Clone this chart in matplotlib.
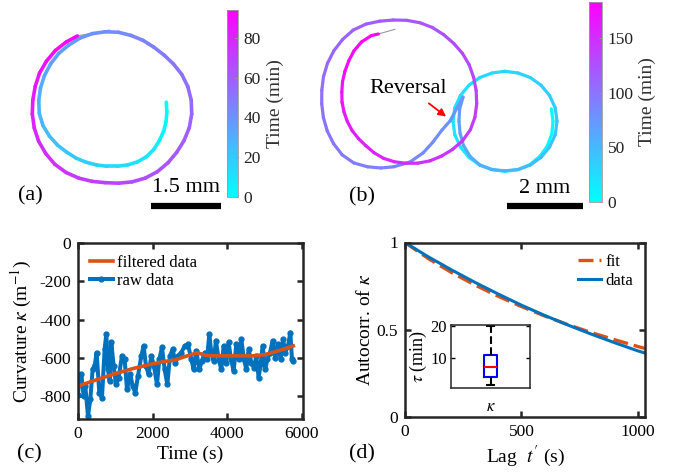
"""Trajectory, curvature and autocorrelation figure (four panels)."""

import matplotlib

matplotlib.use("Agg")
import matplotlib.pyplot as plt
import numpy as np
from matplotlib.collections import LineCollection

plt.rcParams["font.family"] = ["Liberation Serif", "DejaVu Serif"]
plt.rcParams["mathtext.fontset"] = "stix"
plt.rcParams["axes.unicode_minus"] = False

W, H = 678, 474
INK = "#262626"
ORANGE = "#D95319"
BLUE = "#0072BD"

# (a) track read as polar samples about the loop centre: angle (deg), radius (mm), time (min)
A_ANG = [5, -5, -15, -25, -35, -45, -55, -65, -75, -85, -95, -105, -115, -125, -135, -145,
         -155, -165, -175, -185, -195, -205, -215, -225, -235, -245, -255, -265, -275, -285,
         -295, -305, -315, -325, -335, -345, -355, -365, -375, -385, -395, -405, -415, -425,
         -435, -445, -455, -465, -475, -485, -495, -505, -515, -525, -535, -545, -555, -565,
         -575, -585, -595, -604]
A_RAD = [1.167, 1.178, 1.199, 1.221, 1.242, 1.274, 1.296, 1.296, 1.285, 1.274, 1.274, 1.285,
         1.306, 1.338, 1.370, 1.424, 1.478, 1.531, 1.563, 1.574, 1.585, 1.595, 1.606, 1.617,
         1.617, 1.627, 1.627, 1.617, 1.606, 1.585, 1.574, 1.563, 1.574, 1.606, 1.649, 1.681,
         1.702, 1.713, 1.713, 1.702, 1.692, 1.692, 1.692, 1.681, 1.660, 1.638, 1.627, 1.649,
         1.681, 1.713, 1.734, 1.734, 1.734, 1.724, 1.713, 1.702, 1.702, 1.713, 1.713, 1.713,
         1.702, 1.692]
A_T = [0, 2, 3, 5, 6, 8, 9, 11, 12, 14, 15, 17, 18, 20, 21, 23, 24, 26, 27, 29, 30, 32, 33,
       35, 36, 38, 40, 41, 43, 44, 46, 47, 49, 50, 52, 53, 55, 56, 58, 59, 61, 62, 64, 65, 67,
       68, 70, 71, 73, 74, 76, 78, 79, 81, 82, 84, 85, 87, 88, 90, 91, 93]
A_TAIL_X = [-0.742, -0.058]
A_TAIL_Y = [1.521, 1.648]
A_TMAX = 94
A_TICKS = [0, 20, 40, 60, 80]

# (b) track, mm.  Small loop (polar about its centre), reversal hook (x, y), big loops (polar)
B_SMALL_C = (5.658, 2.466)
B_SMALL_ANG = [15, 0, -15, -30, -45, -60, -75, -90, -105, -120, -135, -150, -165, -180, -195,
               -210, -225, -240, -255, -270, -285, -300, -315, -330, -345, -360, -375, -390,
               -405, -420, -435, -450, -465, -480, -495, -510, -525, -540, -555, -570]
B_SMALL_RAD = [1.263, 1.263, 1.276, 1.289, 1.303, 1.316, 1.316, 1.316, 1.316, 1.329, 1.342,
               1.355, 1.368, 1.368, 1.368, 1.355, 1.342, 1.329, 1.316, 1.316, 1.316, 1.329,
               1.342, 1.355, 1.368, 1.368, 1.368, 1.355, 1.342, 1.329, 1.316, 1.303, 1.316,
               1.329, 1.303, 1.263, 1.224, 1.211, 1.237, 1.276]
B_SMALL_T = [0, 2, 3, 5, 6, 8, 9, 11, 12, 13, 15, 16, 18, 19, 21, 22, 24, 26, 27, 29, 31, 33,
             34, 36, 38, 40, 42, 44, 47, 49, 52, 54, 56, 58, 60, 62, 65, 68, 70, 73]
B_HOOK_X = [4.395, 4.211, 4.000, 3.763, 3.500, 3.158]
B_HOOK_Y = [2.816, 2.474, 2.237, 1.921, 1.632, 1.395]
B_HOOK_T = [75, 77, 79, 81, 84, 86]
B_BIG_C = (2.895, 3.105)
B_BIG_ANG = [-95, -105, -115, -125, -135, -145, -155, -165, -175, -185, -195, -205, -215,
             -225, -235, -245, -255, -265, -275, -285, -295, -305, -315, -325, -335, -345,
             -355, -365, -375, -385, -395, -405, -415, -425, -435, -445, -455, -465, -475,
             -485, -495, -505, -515, -525, -535, -545, -555, -565, -575, -585, -595, -605, -611]
B_BIG_RAD = [1.842, 1.934, 2.026, 2.118, 2.153, 2.137, 2.113, 2.087, 2.068, 2.066, 2.084,
             2.105, 2.124, 2.139, 2.150, 2.118, 2.066, 2.034, 2.026, 2.024, 2.018, 2.003,
             1.997, 2.005, 2.008, 2.005, 2.011, 2.026, 2.042, 2.042, 2.008, 1.953, 1.900,
             1.855, 1.803, 1.750, 1.711, 1.671, 1.618, 1.566, 1.547, 1.539, 1.529, 1.526,
             1.532, 1.537, 1.566, 1.600, 1.650, 1.716, 1.768, 1.784, 1.753]
B_BIG_T = [88, 90, 92, 93, 95, 97, 99, 101, 102, 104, 106, 108, 110, 111, 113, 115, 117, 119,
           120, 122, 124, 126, 128, 129, 131, 133, 135, 137, 138, 140, 142, 144, 146, 148,
           149, 151, 153, 155, 157, 158, 160, 162, 164, 166, 167, 169, 171, 173, 175, 176,
           178, 180, 182]
B_TAIL_X = [2.324, 2.763]
B_TAIL_Y = [4.763, 4.887]
B_TMAX = 183
B_TICKS = [0, 50, 100, 150]

# (c) curvature vs time
C_T = [0, 35, 89, 151, 196, 268, 330, 393, 450, 500, 572, 643, 715, 760, 805, 850, 894,
       957, 1019, 1091, 1180, 1252, 1315, 1404, 1467, 1538, 1610, 1700, 1762, 1825, 1896,
       1968, 2040, 2120, 2183, 2254, 2326, 2398, 2469, 2541, 2612, 2684, 2774, 2863, 2952,
       3042, 3104, 3176, 3256, 3328, 3400, 3462, 3525, 3578, 3641, 3704, 3775, 3847, 3910,
       3972, 4044, 4107, 4178, 4250, 4312, 4384, 4455, 4518, 4581, 4652, 4724, 4787, 4849,
       4903, 4957, 5028, 5082, 5154, 5225, 5297, 5368, 5440, 5503, 5565, 5637, 5700, 5744,
       5770]
C_RAW = [-792, -704, -686, -800, -748, -905, -818, -660, -640, -573, -783, -809, -555,
         -476, -660, -722, -520, -643, -739, -704, -590, -608, -765, -686, -748, -783, -695,
         -590, -538, -643, -686, -590, -643, -739, -608, -546, -660, -739, -590, -555, -625,
         -590, -573, -538, -530, -608, -660, -564, -660, -616, -573, -608, -476, -573, -616,
         -511, -608, -660, -538, -625, -520, -608, -669, -529, -608, -503, -608, -660, -555,
         -625, -651, -590, -704, -634, -538, -660, -608, -573, -511, -599, -529, -608, -503,
         -573, -538, -468, -608, -616]
C_FILT_T = [0, 300, 600, 1000, 1500, 2000, 2300, 2600, 2900, 3200, 3450, 3700, 4200, 4700,
            5000, 5300, 5500, 5780]
C_FILT = [-748, -728, -708, -683, -655, -632, -620, -612, -592, -574, -588, -590, -590,
          -590, -584, -568, -556, -538]

# (d) autocorrelation of curvature
D_LAG = [0, 100, 200, 300, 400, 500, 600, 700, 800, 900, 1000, 1030]
D_DATA = [1.0, 0.918, 0.843, 0.772, 0.705, 0.641, 0.582, 0.527, 0.475, 0.426, 0.379, 0.367]
D_FIT = [1.0, 0.908, 0.828, 0.757, 0.692, 0.633, 0.579, 0.529, 0.484, 0.443, 0.404, 0.393]

# inset: decorrelation time tau (min)
TAU_MED, TAU_Q1, TAU_Q3, TAU_LO, TAU_HI = 7.0, 4.0, 10.8, 1.55, 20.0


def px_axes(fig, x0, y0, x1, y1):
    """Axes from pixel box (top-left origin)."""
    return fig.add_axes([x0 / W, 1 - y1 / H, (x1 - x0) / W, (y1 - y0) / H])


def polar_xy(centre, ang, rad):
    a = np.deg2rad(np.asarray(ang, dtype=float))
    r = np.asarray(rad, dtype=float)
    return centre[0] + r * np.cos(a), centre[1] + r * np.sin(a)


def style_axes(ax, lw=1.8):
    for s in ax.spines.values():
        s.set_linewidth(lw)
        s.set_color(INK)
    ax.tick_params(direction="in", top=True, right=True, length=4, width=lw,
                   colors=INK, labelsize=12.5, pad=5)
    for lab in ax.get_xticklabels() + ax.get_yticklabels():
        lab.set_color("black")


def draw_track(ax, x, y, t, tmax, lw):
    pts = np.column_stack([x, y])
    segs = np.stack([pts[:-1], pts[1:]], axis=1)
    tt = np.asarray(t, dtype=float)
    lc = LineCollection(segs, cmap="cool", norm=plt.Normalize(0, tmax),
                        linewidth=lw, capstyle="round")
    lc.set_array((tt[:-1] + tt[1:]) / 2)
    ax.add_collection(lc)
    return lc


def add_cbar(fig, lc, box, ticks):
    cax = px_axes(fig, *box)
    cb = fig.colorbar(lc, cax=cax, ticks=ticks)
    cb.outline.set_linewidth(0.6)
    cb.outline.set_edgecolor("#9a9a9a")
    cax.tick_params(labelsize=12.5, length=2, direction="in", width=0.6, colors="#9a9a9a",
                    labelcolor="#222222", pad=4)
    cb.set_label("Time (min)", fontsize=14, color="#333333", labelpad=4)
    return cb


def scale_bar(ax, x0, x1, y, text):
    ax.plot([x0, x1], [y, y], color="black", lw=4.5, solid_capstyle="butt")
    ax.text((x0 + x1) / 2, y + 0.2, text, ha="center", va="bottom", fontsize=16)


def plot_a(fig):
    ax = px_axes(fig, 0, 0, 222, 215)
    ax.set_xlim(-2.398, 2.355)
    ax.set_ylim(-2.313, 2.291)
    ax.axis("off")
    ax.plot(A_TAIL_X, A_TAIL_Y, color="#9a9a9a", lw=0.8)
    x, y = polar_xy((0.0, 0.0), A_ANG, A_RAD)
    lc = draw_track(ax, x, y, A_T, A_TMAX, lw=2.6)
    scale_bar(ax, 0.835, 2.335, -2.12, "1.5 mm")
    add_cbar(fig, lc, (227, 10, 238, 197), A_TICKS)


def plot_b(fig):
    ax = px_axes(fig, 290, 0, 588, 215)
    ax.set_xlim(0, 7.842)
    ax.set_ylim(0, 5.658)
    ax.axis("off")
    ax.plot(B_TAIL_X, B_TAIL_Y, color="#9a9a9a", lw=0.8)
    sx, sy = polar_xy(B_SMALL_C, B_SMALL_ANG, B_SMALL_RAD)
    bx, by = polar_xy(B_BIG_C, B_BIG_ANG, B_BIG_RAD)
    x = np.concatenate([sx, B_HOOK_X, bx])
    y = np.concatenate([sy, B_HOOK_Y, by])
    t = np.concatenate([B_SMALL_T, B_HOOK_T, B_BIG_T])
    lc = draw_track(ax, x, y, t, B_TMAX, lw=2.3)
    scale_bar(ax, 5.711, 7.711, 0.237, "2 mm")
    ax.text(3.105, 3.316, "Reversal", ha="center", va="center", fontsize=16)
    ax.annotate("", xy=(4.166, 2.545), xytext=(3.597, 2.982),
                arrowprops=dict(arrowstyle="-|>", color="red", lw=1.3, mutation_scale=11))
    add_cbar(fig, lc, (589, 2, 602, 202), B_TICKS)


def plot_c(fig):
    ax = px_axes(fig, 78, 243, 303, 419)
    raw, = ax.plot(C_T, C_RAW, color=BLUE, lw=2.9, marker=".", ms=7, label="raw data")
    filt, = ax.plot(C_FILT_T, C_FILT, color=ORANGE, lw=2.6, label="filtered data")
    ax.set_xlim(0, 6040)
    ax.set_ylim(-920, 0)
    ax.set_xticks([0, 2000, 4000, 6000])
    ax.set_yticks([0, -200, -400, -600, -800])
    ax.set_xlabel("Time (s)", fontsize=14, labelpad=3)
    ax.set_ylabel(r"Curvature $\kappa$ (m$^{-1}$)", fontsize=14, labelpad=4)
    ax.legend(handles=[filt, raw], loc="upper left", frameon=False, fontsize=12,
              handlelength=1.4, handletextpad=0.25, labelspacing=0.15,
              borderaxespad=0.3, borderpad=0.4)
    style_axes(ax)


def plot_d(fig):
    ax = px_axes(fig, 405, 242.5, 645, 417)
    fit, = ax.plot(D_LAG, D_FIT, color=ORANGE, lw=2.4, dashes=(4.5, 1.8), label="fit")
    data, = ax.plot(D_LAG, D_DATA, color=BLUE, lw=2.2, label="data")
    ax.set_xlim(0, 1031)
    ax.set_ylim(0, 1)
    ax.set_xticks([0, 500, 1000])
    ax.set_yticks([0, 0.5, 1])
    ax.set_yticklabels(["0", "0.5", "1"])
    ax.set_xlabel(r"Lag  $t'$ (s)", fontsize=14, labelpad=3)
    ax.set_ylabel(r"Autocorr. of $\kappa$", fontsize=14, labelpad=2)
    ax.legend(handles=[fit, data], loc="upper right", frameon=False, fontsize=12,
              handlelength=1.4, handletextpad=0.25, labelspacing=0.15,
              borderaxespad=0.3, borderpad=0.4)
    style_axes(ax)

    ins = px_axes(fig, 451, 324.5, 530, 388)
    stats = dict(med=TAU_MED, q1=TAU_Q1, q3=TAU_Q3, whislo=TAU_LO, whishi=TAU_HI)
    ins.bxp([stats], positions=[1], widths=0.17, capwidths=0.085, showfliers=False,
            boxprops=dict(color="blue", lw=1.5),
            medianprops=dict(color="red", lw=1.5),
            whiskerprops=dict(color="black", lw=1.5, linestyle="--"),
            capprops=dict(color="black", lw=1.5))
    ins.set_xlim(0.5, 1.5)
    ins.set_ylim(0.5, 20.6)
    ins.set_yticks([10, 20])
    ins.set_xticks([1])
    ins.set_xticklabels([r"$\kappa$"])
    ins.set_ylabel(r"$\tau$ (min)", fontsize=13, labelpad=1)
    for s in ins.spines.values():
        s.set_linewidth(1.1)
        s.set_color(INK)
    ins.tick_params(direction="in", right=True, length=3, width=1.0, labelsize=12, pad=3)
    ins.tick_params(axis="x", length=0, pad=8)


def main():
    fig = plt.figure(figsize=(W / 100, H / 100), dpi=100)
    plot_a(fig)
    plot_b(fig)
    plot_c(fig)
    plot_d(fig)
    for (x, y), lab in zip([(30, 196), (362, 197), (29, 454), (362, 454)],
                           ["(a)", "(b)", "(c)", "(d)"]):
        fig.text(x / W, 1 - y / H, lab, ha="center", va="center", fontsize=16)
    fig.savefig("out.png", dpi=100)


if __name__ == "__main__":
    main()
